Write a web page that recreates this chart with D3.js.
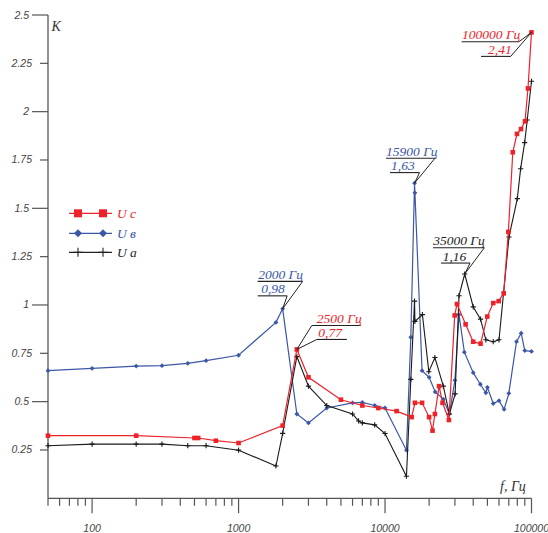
<!DOCTYPE html>
<html><head><meta charset="utf-8">
<script src="https://cdn.jsdelivr.net/npm/d3@7"></script>
<style>
html,body{margin:0;padding:0;background:#fff;}
svg{display:block;}
</style></head>
<body>
<svg id="chart" width="548" height="533"></svg>
<script>
// ---- data ----
const freqUc = [50,200,500,530,700,1000,2000,2500,3000,5000,7000,9000,12000,15200,16000,17900,20000,21100,21900,23400,24700,27300,29900,31000,35500,40000,44900,49900,54800,59700,64600,69500,74500,79600,84800,90300,94600,100000];
const valUc  = [0.324,0.324,0.312,0.312,0.298,0.286,0.376,0.77,0.626,0.51,0.48,0.467,0.451,0.42,0.494,0.494,0.42,0.35,0.436,0.58,0.494,0.405,0.946,1.005,0.9,0.81,0.8,0.94,1.01,1.02,1.06,1.378,1.79,1.885,1.91,1.95,2.12,2.41];

const freqUb = [50,100,200,300,450,600,1000,1800,2000,2500,3000,4000,6000,7000,8500,10000,14000,15000,15900,16000,17900,20000,22000,25000,27500,30000,32000,34800,40000,44700,48800,50000,54800,60000,65000,70000,79000,85000,90000,100000];
const valUb  = [0.66,0.672,0.684,0.686,0.698,0.712,0.74,0.91,0.98,0.436,0.39,0.467,0.494,0.496,0.48,0.467,0.249,0.833,1.63,1.58,0.66,0.626,0.55,0.513,0.436,0.61,0.95,0.756,0.65,0.59,0.546,0.574,0.49,0.505,0.46,0.543,0.81,0.854,0.764,0.76];

const freqUa = [50,100,200,300,450,600,1000,1800,2000,2500,3000,4000,6000,6600,7000,8500,10000,14000,15000,15900,16000,18000,19900,21900,25000,27500,30100,32000,35000,40000,44900,48800,54800,60000,70200,80000,84300,89800,93500,100000];
const valUa  = [0.272,0.28,0.28,0.28,0.272,0.272,0.249,0.167,0.336,0.733,0.58,0.48,0.436,0.40,0.39,0.38,0.335,0.114,0.615,1.02,0.915,0.95,0.655,0.728,0.58,0.436,0.54,1.048,1.16,0.99,0.927,0.82,0.81,0.82,1.352,1.55,1.705,1.84,1.957,2.157];

const yTicks = [0.25,0.5,0.75,1,1.25,1.5,1.75,2,2.25,2.5];
const yTickLabels = ["0.25","0.5","0.75","1","1.25","1.5","1.75","2","2.25","2.5"];
const xMajorTicks = [100,1000,10000,100000];
const xMajorLabels = ["100","1000","10000","100000"];
const seriesNames = ["U c","U в","U a"];

// annotations: frequency, value, two text lines, text colour
const annFreq = [2000,2500,15900,35000,100000];
const annVal  = [0.98,0.77,1.63,1.16,2.41];
const annLine1 = ["2000 Гц","2500 Гц","15900 Гц","35000 Гц","100000 Гц"];
const annLine2 = ["0,98","0,77","1,63","1,16","2,41"];

// ---- layout ----
const svg = d3.select("#chart");
const x = d3.scaleLog().domain([50,100000]).range([48,531.5]);
const y = d3.scaleLinear().domain([0,2.5]).range([498.3,15]);
const axisCol = "#555";
const cRed = "#ee2229", cBlue = "#3b57a6", cBlack = "#1a1a1a";

// axes lines
svg.append("line").attr("x1",48).attr("x2",48).attr("y1",y(2.5)).attr("y2",y(0))
  .attr("stroke",axisCol).attr("stroke-width",1.3);
svg.append("line").attr("x1",48).attr("x2",x(100000)).attr("y1",y(0)).attr("y2",y(0))
  .attr("stroke",axisCol).attr("stroke-width",1.3);

// y ticks
yTicks.forEach((t,i)=>{
  const major = Math.abs(t*2 - Math.round(t*2))<1e-9;
  const len = major?16:8;
  svg.append("line").attr("x1",48-len).attr("x2",48).attr("y1",y(t)).attr("y2",y(t))
    .attr("stroke",axisCol).attr("stroke-width",1.2);
  svg.append("text").attr("x",major?29:32).attr("y",y(t)+3.5)
    .attr("text-anchor","end").attr("font-family","Liberation Sans, Arial, sans-serif")
    .attr("font-style","italic").attr("font-size",10.5).attr("fill","#444")
    .text(yTickLabels[i]);
});

// x ticks (log minor + major)
const xTicks = [];
for (let d=10; d<=100000; d*=10){
  for (let m=1; m<=9; m++){
    const v=d*m;
    if (v>=50 && v<=100000) xTicks.push(v);
  }
}
xTicks.forEach(v=>{
  const major = xMajorTicks.includes(v);
  svg.append("line").attr("x1",x(v)).attr("x2",x(v)).attr("y1",y(0)).attr("y2",y(0)+(major?15:7.5))
    .attr("stroke",axisCol).attr("stroke-width",1.2);
});
xMajorTicks.forEach((v,i)=>{
  svg.append("text").attr("x",x(v)).attr("y",531.5).attr("text-anchor","middle")
    .attr("font-family","Liberation Sans, Arial, sans-serif").attr("font-style","italic")
    .attr("font-size",10.5).attr("fill","#444").text(xMajorLabels[i]);
});

// axis titles
svg.append("text").attr("x",51.5).attr("y",31).attr("font-family","Liberation Serif, Times New Roman, serif")
  .attr("font-style","italic").attr("font-size",14).attr("fill","#333").text("K");
svg.append("text").attr("x",500).attr("y",491).attr("font-family","Liberation Serif, Times New Roman, serif")
  .attr("font-style","italic").attr("font-size",14).attr("fill","#333").text("f, Гц");

// ---- series ----
const line = d3.line().x(d=>x(d[0])).y(d=>y(d[1]));
function zip(a,b){return a.map((v,i)=>[v,b[i]]);}

const dUc = zip(freqUc,valUc), dUb = zip(freqUb,valUb), dUa = zip(freqUa,valUa);

function square(g,cx,cy,s,col){g.append("rect").attr("x",cx-s/2).attr("y",cy-s/2).attr("width",s).attr("height",s).attr("fill",col);}
function diamond(g,cx,cy,s,col){g.append("path").attr("d",`M${cx},${cy-s}L${cx+s},${cy}L${cx},${cy+s}L${cx-s},${cy}Z`).attr("fill",col);}
function plus(g,cx,cy,s,col){g.append("path").attr("d",`M${cx-s},${cy}H${cx+s}M${cx},${cy-s}V${cy+s}`).attr("stroke",col).attr("stroke-width",1.1);}

const gS = svg.append("g");
// blue
gS.append("path").datum(dUb).attr("d",line).attr("fill","none").attr("stroke",cBlue).attr("stroke-width",1.2);
dUb.forEach(d=>diamond(gS,x(d[0]),y(d[1]),2.4,cBlue));
// black
gS.append("path").datum(dUa).attr("d",line).attr("fill","none").attr("stroke",cBlack).attr("stroke-width",1.1);
dUa.forEach(d=>plus(gS,x(d[0]),y(d[1]),2.6,cBlack));
// red
gS.append("path").datum(dUc).attr("d",line).attr("fill","none").attr("stroke",cRed).attr("stroke-width",1.2);
dUc.forEach(d=>square(gS,x(d[0]),y(d[1]),4.6,cRed));

// ---- legend ----
const legY = [213.3,233.3,252.3];
const legCol = [cRed,cBlue,"#222"];
const gL = svg.append("g");
legY.forEach((ly,i)=>{
  gL.append("line").attr("x1",69).attr("x2",112).attr("y1",ly).attr("y2",ly).attr("stroke",legCol[i]).attr("stroke-width",1.3);
  [78,103].forEach(mx=>{
    if(i===0) square(gL,mx,ly,8,cRed);
    else if(i===1) diamond(gL,mx,ly,4,cBlue);
    else plus(gL,mx,ly,4.5,"#222");
  });
  gL.append("text").attr("x",117).attr("y",ly+4.5).attr("font-family","Liberation Serif, Times New Roman, serif")
    .attr("font-style","italic").attr("font-size",13.5).attr("fill",legCol[i]).text(seriesNames[i]);
});

// ---- annotations (offsets relative to the annotated point) ----
const annColor = [cBlue,cRed,cBlue,"#222",cRed];
// underline 1: [x1,x2,dy], underline 2: [x1,x2,dy], leader from end ("L" left or "R" right)
const annU1 = [[-25,20,-27.5],[15,64,-24],[-28.5,20.5,-25],[-31.7,19.6,-26.3],[-69.8,-12.5,9.3]];
const annU2 = [[-25,4.5,-13],[20,50,-10],[-24.5,5,-10.6],[-23.7,5.3,-11],[-50.5,-20.8,24]];
const annT1 = [-24.5,20,-28.5,-31.5,-69.5];
const annT2 = [-21.5,21.5,-23.5,-22,-43.5];
const annSide = ["R","L","R","R","R"];
const gA = svg.append("g");
annFreq.forEach((f,i)=>{
  const px = x(f), py = y(annVal[i]);
  const u1 = annU1[i], u2 = annU2[i];
  [u1,u2].forEach(u=>{
    gA.append("line").attr("x1",px+u[0]).attr("x2",px+u[1]).attr("y1",py+u[2]).attr("y2",py+u[2])
      .attr("stroke","#222").attr("stroke-width",1.1);
    const ex = annSide[i]==="R"?u[1]:u[0];
    gA.append("line").attr("x1",px+ex).attr("y1",py+u[2]).attr("x2",px).attr("y2",py)
      .attr("stroke","#222").attr("stroke-width",1);
  });
  gA.append("text").attr("x",px+annT1[i]).attr("y",py+u1[2]-2.5)
    .attr("font-family","Liberation Serif, Times New Roman, serif").attr("font-style","italic")
    .attr("font-size",13.5).attr("fill",annColor[i]).text(annLine1[i]);
  gA.append("text").attr("x",px+annT2[i]).attr("y",py+u2[2]-2.5)
    .attr("font-family","Liberation Serif, Times New Roman, serif").attr("font-style","italic")
    .attr("font-size",13.5).attr("fill",annColor[i]).text(annLine2[i]);
});
</script>
</body></html>
